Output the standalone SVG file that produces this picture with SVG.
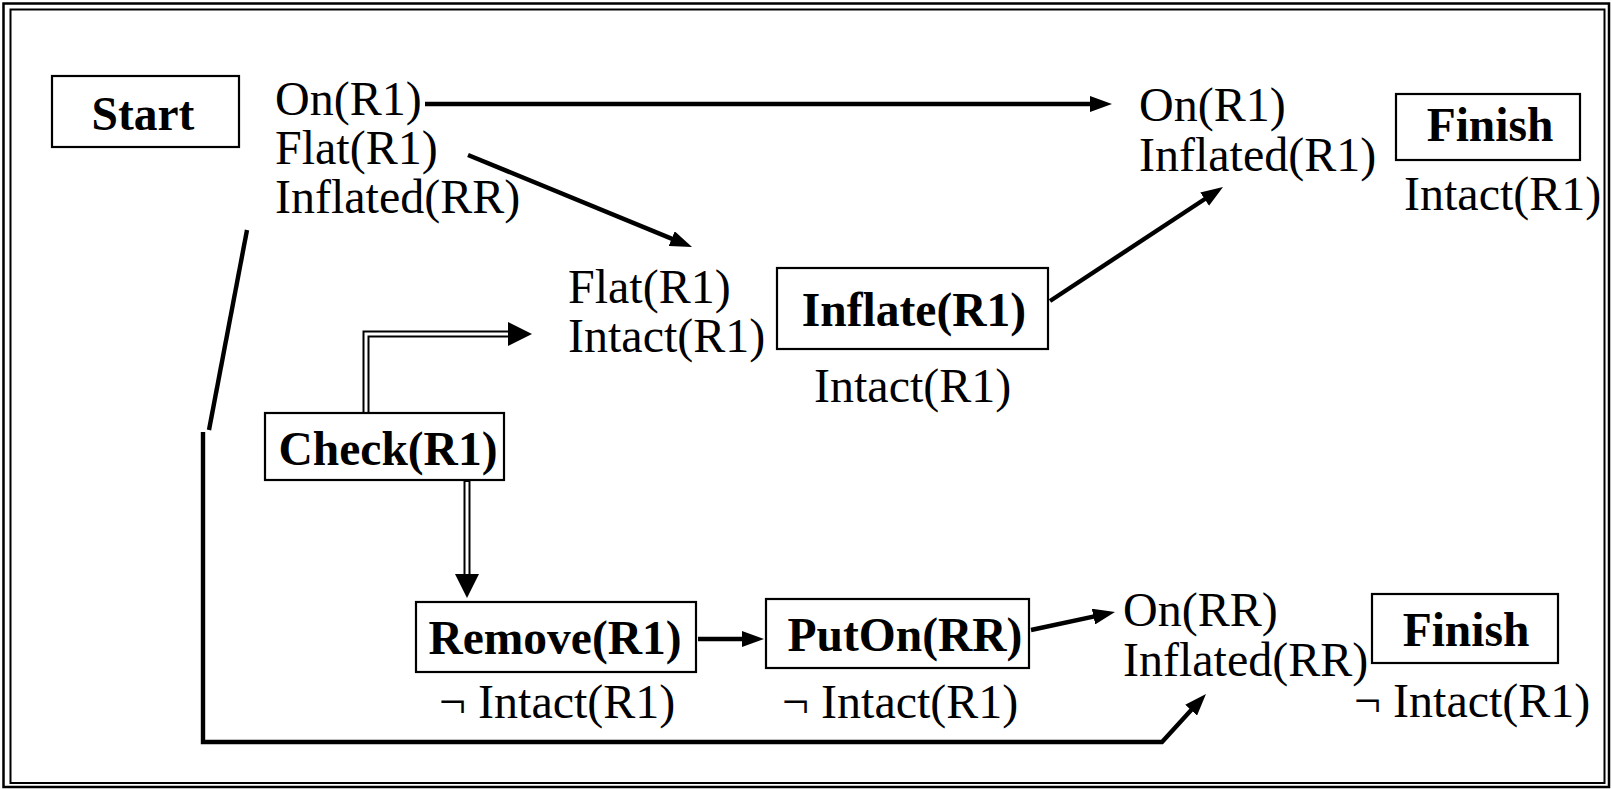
<svg xmlns="http://www.w3.org/2000/svg" width="1612" height="789" viewBox="0 0 1612 789">
<style>
  .t { font-family: "Liberation Serif", "Times New Roman", serif; font-size: 48px; fill: #000; }
  .b { font-weight: bold; text-anchor: middle; font-size: 47.5px; }
  .box { fill: #fff; stroke: #000; stroke-width: 2.2; }
  .frame { fill: none; stroke: #000; }
  .c { fill: none; stroke: #000; stroke-width: 4.4; }
  .dblo { fill: none; stroke: #000; stroke-width: 7; stroke-linejoin: miter; }
  .dbli { fill: none; stroke: #fff; stroke-width: 3; stroke-linejoin: miter; }
</style>
<defs>
  <marker id="ah" markerUnits="userSpaceOnUse" markerWidth="22" markerHeight="16" refX="13" refY="8" orient="auto" viewBox="0 0 22 16">
    <path d="M0,0 L22,8 L0,16 z" fill="#000"/>
  </marker>
  <marker id="ahd" markerUnits="userSpaceOnUse" markerWidth="24" markerHeight="24" refX="4" refY="12" orient="auto" viewBox="0 0 24 24">
    <path d="M0,0 L24,12 L0,24 z" fill="#000"/>
  </marker>
</defs>
<rect width="1612" height="789" fill="#fff"/>
<rect class="frame" x="3.5" y="3.5" width="1605.5" height="783.5" stroke-width="2.5"/>
<rect class="frame" x="10.5" y="9.5" width="1594" height="773.5" stroke-width="2"/>

<g id="connectors">
  <line class="c" x1="425" y1="104" x2="1103" y2="104" marker-end="url(#ah)"/>
  <line class="c" x1="468" y1="155" x2="683.7" y2="243.6" marker-end="url(#ah)"/>
  <line class="c" x1="1050" y1="301" x2="1215.5" y2="192" marker-end="url(#ah)"/>
  <line class="c" x1="698" y1="639" x2="755" y2="639" marker-end="url(#ah)"/>
  <line class="c" x1="1031" y1="630" x2="1106.2" y2="613.9" marker-end="url(#ah)"/>
  <line class="c" x1="247" y1="230" x2="209" y2="430"/>
  <polyline class="c" points="203,432 203,742 1162,742 1199.9,700.6" marker-end="url(#ah)"/>
  <polyline class="dblo" points="366,413 366,334 512,334"/>
  <polyline class="dbli" points="366,412 366,334 512,334" marker-end="url(#ahd)"/>
  <polyline class="dblo" points="467,481 467,578"/>
  <polyline class="dbli" points="467,482 467,578" marker-end="url(#ahd)"/>
</g>

<g id="start">
  <rect class="box" x="52" y="76" width="187" height="71"/>
  <text class="t b" x="143" y="130">Start</text>
</g>
<g id="start-effects">
  <text class="t" x="275" y="115">On(R1)</text>
  <text class="t" x="275" y="164">Flat(R1)</text>
  <text class="t" x="275" y="213">Inflated(RR)</text>
</g>

<g id="finish-1">
  <text class="t" x="1139" y="121">On(R1)</text>
  <text class="t" x="1139" y="171">Inflated(R1)</text>
  <rect class="box" x="1396" y="94" width="184" height="66"/>
  <text class="t b" x="1490" y="141">Finish</text>
  <text class="t" x="1404" y="210">Intact(R1)</text>
</g>

<g id="inflate">
  <text class="t" x="568" y="303">Flat(R1)</text>
  <text class="t" x="568" y="352">Intact(R1)</text>
  <rect class="box" x="777" y="268" width="271" height="81"/>
  <text class="t b" x="914" y="326">Inflate(R1)</text>
  <text class="t" x="814" y="402">Intact(R1)</text>
</g>

<g id="check">
  <rect class="box" x="265" y="413" width="239" height="67"/>
  <text class="t b" x="388" y="465">Check(R1)</text>
</g>

<g id="remove">
  <rect class="box" x="416" y="602" width="280" height="70"/>
  <text class="t b" x="555" y="654">Remove(R1)</text>
  <text class="t" x="439" y="718">¬ Intact(R1)</text>
</g>

<g id="puton">
  <rect class="box" x="766" y="599" width="263" height="69"/>
  <text class="t b" x="905" y="651">PutOn(RR)</text>
  <text class="t" x="782" y="718">¬ Intact(R1)</text>
</g>

<g id="finish-2">
  <text class="t" x="1123" y="626">On(RR)</text>
  <text class="t" x="1123" y="676">Inflated(RR)</text>
  <rect class="box" x="1372" y="594" width="186" height="69"/>
  <text class="t b" x="1466" y="646">Finish</text>
  <text class="t" x="1354" y="717">¬ Intact(R1)</text>
</g>
</svg>
